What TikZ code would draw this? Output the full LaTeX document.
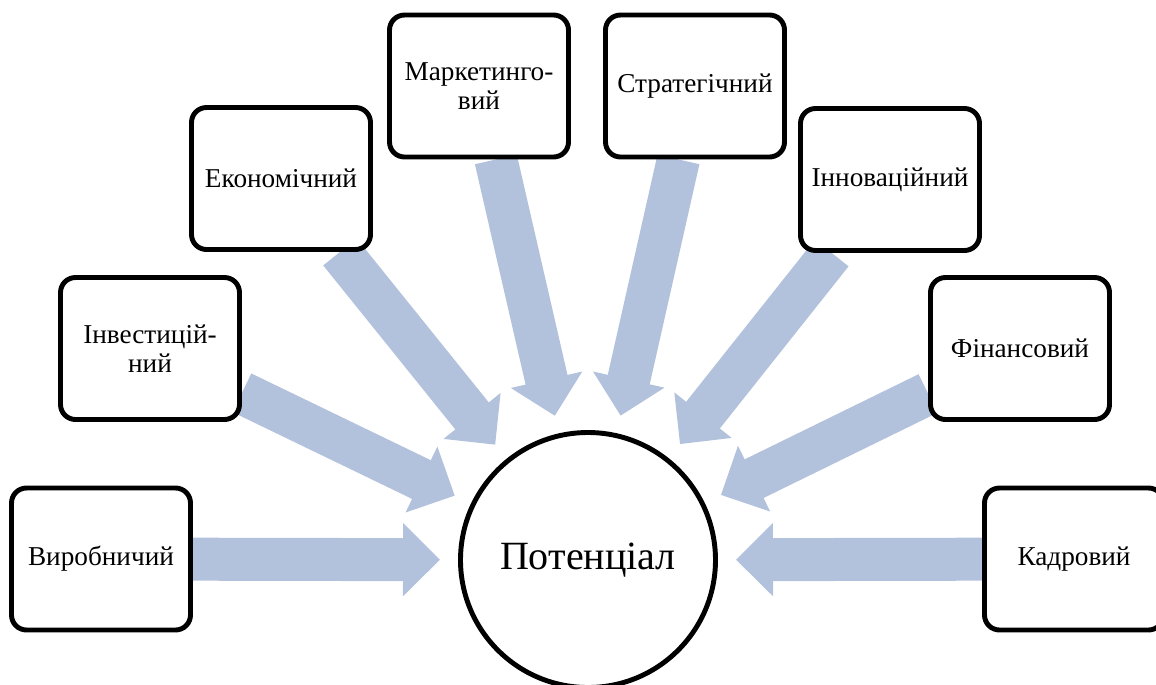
\documentclass[tikz,border=0pt]{standalone}
\usepackage{fontspec}
\setmainfont{Liberation Serif}
\usepackage{tikz}
\usetikzlibrary{arrows.meta}
\definecolor{flowblue}{RGB}{179,194,220}
\pgfdeclarelayer{bg}
\pgfsetlayers{bg,main}
\tikzset{
  kind/.style={draw, line width=2.8pt, rounded corners=0.3cm, fill=white,
    minimum width=3.58cm, minimum height=2.84cm, inner sep=0pt, align=center,
    font=\fontsize{15.5}{16.5}\selectfont},
  core/.style={draw, circle, line width=2.8pt, fill=white, minimum size=5.1cm,
    inner sep=0pt, font=\fontsize{22.8}{26}\selectfont},
  flow/.style={draw=flowblue, line width=0.86cm, line cap=butt, shorten >=0.36cm,
    -{Triangle[length=0.74cm, width=1.42cm]}}
}
\begin{document}
\begin{tikzpicture}
        \useasboundingbox (0,0) rectangle (23.12,-13.68);

        \node[core] (pot) at (11.76,-11.2) {Потенціал};

        \node[kind] (vyr) at (2.02,-11.18) {Виробничий};
        \node[kind] (inv) at (3.00,-6.97) {Інвестицій-\\ний};
        \node[kind] (eko) at (5.62,-3.57) {Економічний};
        \node[kind] (mar) at (9.58,-1.72) {Маркетинго-\\вий};
        \node[kind] (str) at (13.90,-1.72) {Стратегічний};
        \node[kind] (inn) at (17.80,-3.59) {Інноваційний};
        \node[kind] (fin) at (20.40,-6.97) {Фінансовий};
        \node[kind] (kad) at (21.48,-11.18) {Кадровий};

        \begin{pgfonlayer}{bg}
        \draw[flow] (vyr) -- (pot);
        \draw[flow] (inv) -- (pot);
        \draw[flow] (eko) -- (pot);
        \draw[flow] (mar) -- (pot);
        \draw[flow] (str) -- (pot);
        \draw[flow] (inn) -- (pot);
        \draw[flow] (fin) -- (pot);
        \draw[flow] (kad) -- (pot);
        \end{pgfonlayer}
    \end{tikzpicture}
\end{document}
